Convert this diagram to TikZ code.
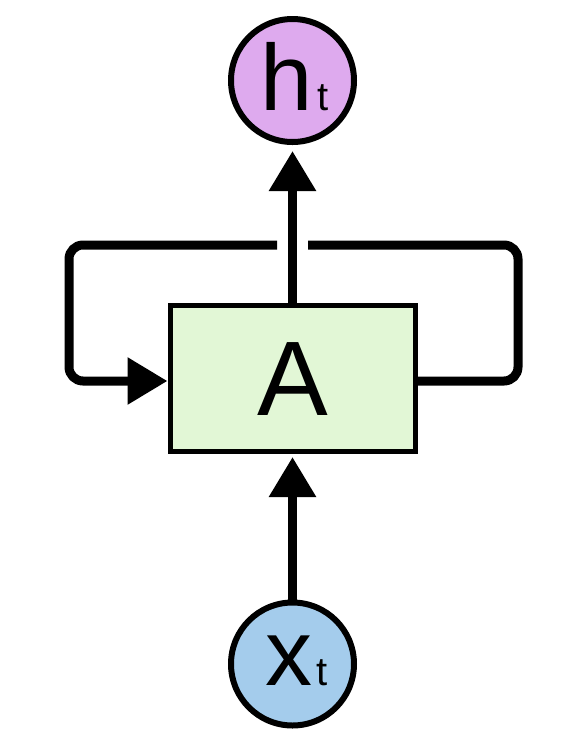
\documentclass[tikz,border=0pt]{standalone}
\usepackage{fontspec}
\setmainfont{Liberation Sans}
\usetikzlibrary{arrows.meta}
\definecolor{hcol}{RGB}{222,170,238}
\definecolor{xcol}{RGB}{164,204,236}
\definecolor{acol}{RGB}{226,247,214}
\begin{document}
\begin{tikzpicture}[x=1pt,y=-1pt,
  circ/.style={circle,draw=black,line width=6pt,minimum size=123pt,inner sep=0pt},
  box/.style={rectangle,draw=black,line width=5pt,fill=acol,minimum width=245pt,minimum height=146pt,inner sep=0pt},
  conn/.style={line width=9pt,draw=black},
  tip/.style={-{Triangle[length=40pt,width=45pt]}},
  lbl/.style={inner sep=0pt,font=\fontsize{94}{94}\selectfont}]
\useasboundingbox (0,0) rectangle (572,740);
\node[circ,fill=hcol] (h) at (292.5,80.5) {};
\node[circ,fill=xcol] (x) at (292.5,664) {};
\node[box] (A) at (292.5,378.5) {};
\node[inner sep=0pt,font=\fontsize{106}{106}\selectfont] (Alab) at (292.5,379) {A};
\node[lbl,anchor=base] (hlab) at (294.5,110) {h\kern5pt{\fontsize{40}{40}\selectfont t}};
\node[lbl,anchor=base] (xlab) at (296.5,685) {x\kern4pt{\fontsize{40}{40}\selectfont t}};
\coordinate (cSE) at (518,381);
\coordinate (cNE) at (518,245);
\coordinate (gapR) at (308,245);
\coordinate (gapL) at (277,245);
\coordinate (cNW) at (69,245);
\coordinate (cSW) at (69,381);
\draw[conn,rounded corners=14pt] ([yshift=-2.5pt]A.east) -- (cSE) -- (cNE) -- (gapR);
\draw[conn,tip,rounded corners=14pt] (gapL) -- (cNW) -- (cSW) -- ([yshift=-2.5pt]A.west);
\draw[conn,tip,shorten >=3pt] (x) -- (A);
\draw[conn,tip,shorten >=6pt] (A) -- (h);
\end{tikzpicture}
\end{document}
